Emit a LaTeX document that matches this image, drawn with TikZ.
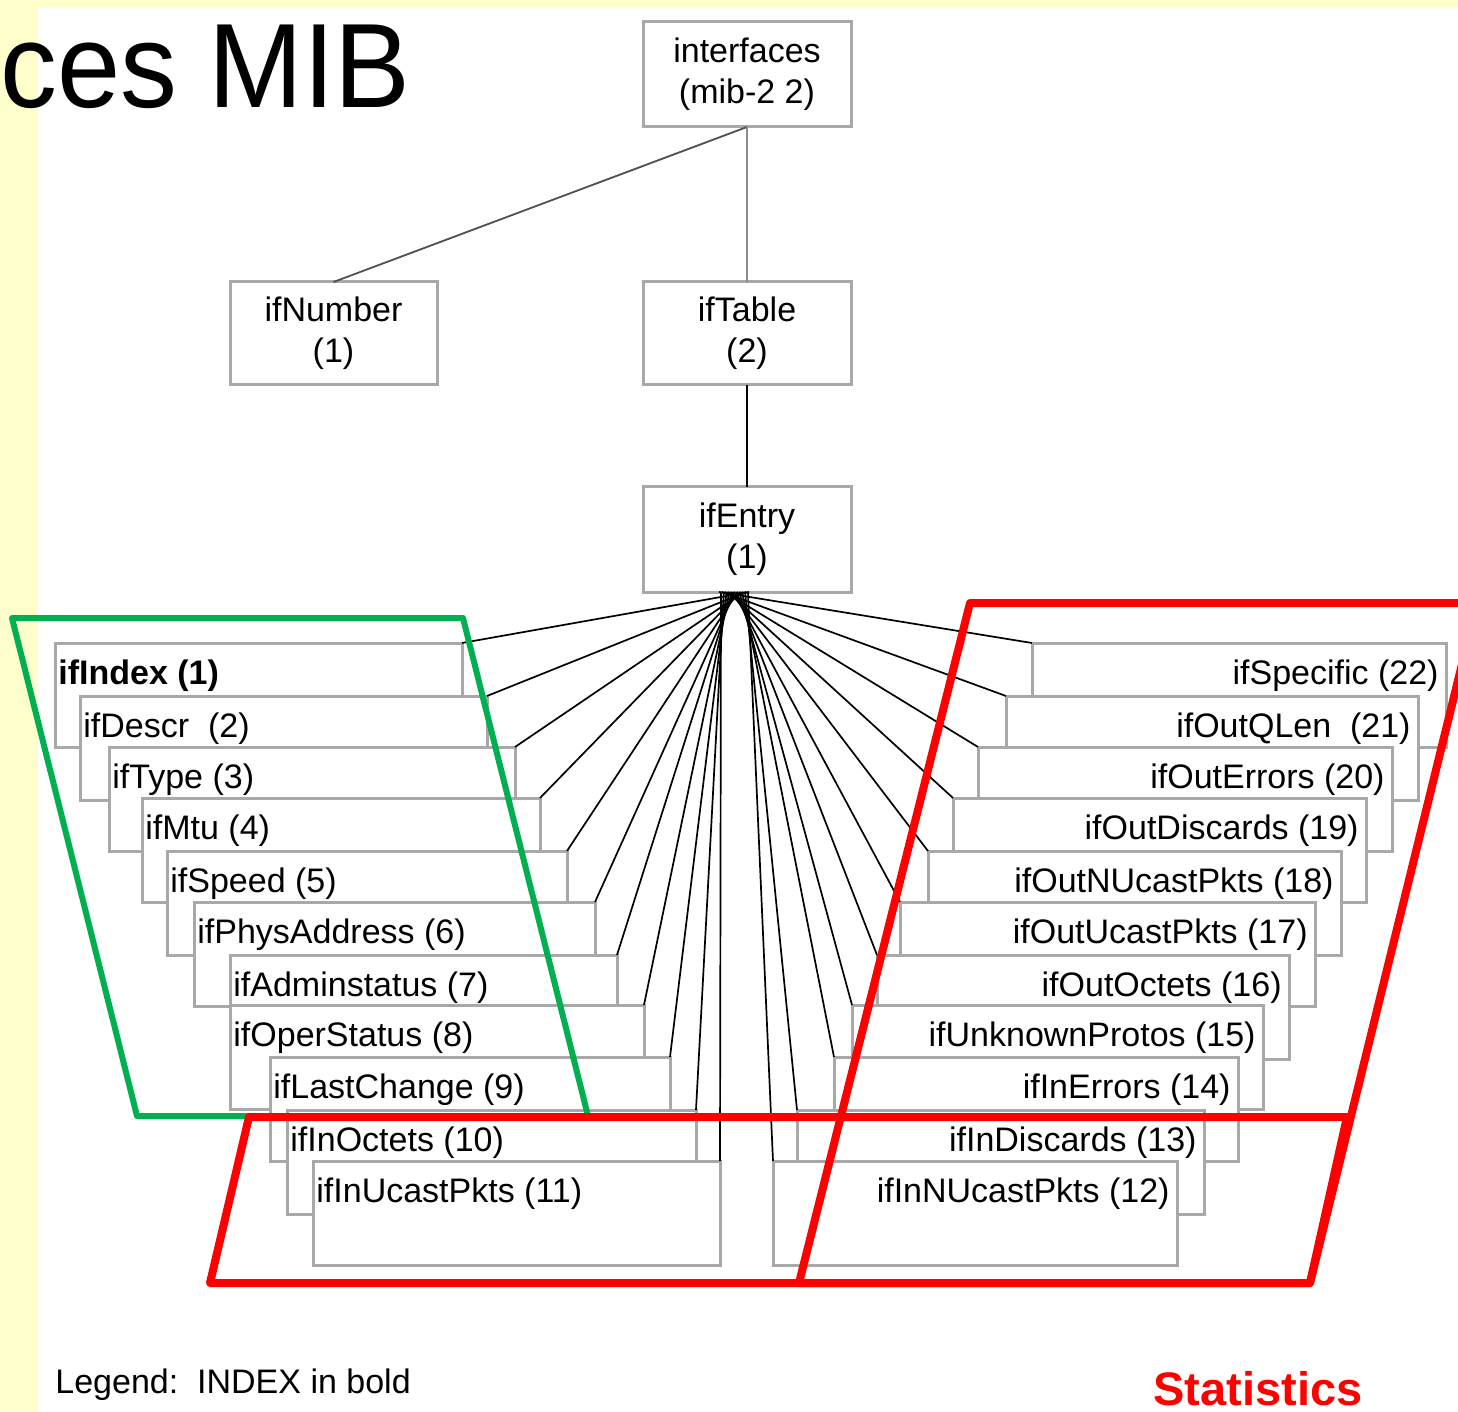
\documentclass[tikz,border=0pt]{standalone}
\usepackage{fontspec}
\setmainfont{Liberation Sans}
\definecolor{paleyellow}{RGB}{255,255,204}
\definecolor{boxgray}{RGB}{168,168,168}
\definecolor{linkgray}{RGB}{80,80,80}
\definecolor{midgray}{RGB}{140,140,140}
\definecolor{redline}{RGB}{255,0,0}
\definecolor{greenline}{RGB}{0,176,80}
\begin{document}
\begin{tikzpicture}[x=0.5pt,y=-0.5pt,
  mibbox/.style={draw=boxgray, line width=1.5pt, fill=white, rectangle,
                 inner sep=0pt, outer sep=0pt},
  boxtext/.style={font=\fontsize{17}{20.5}\selectfont, inner sep=0pt},
  fan/.style={line width=0.85pt, black},
  frame/.style={line join=round, line cap=round},
]
% page and background
\useasboundingbox (0,0) rectangle (1458,1412);
\fill[paleyellow] (0,0) rectangle (1458,1412);
\fill[white] (38,8) rectangle (1458,1412);

% title
\node[anchor=base west, inner sep=0pt, font=\fontsize{60}{72}\selectfont]
  (title) at (0,108) {\scalebox{0.947}[1]{ces MIB}};

% upper part of the tree
\node[mibbox, boxtext, align=center, minimum width=104pt, minimum height=52.5pt]
  (ifaces) at (747,74.5) {interfaces\\(mib-2 2)};
\node[mibbox, boxtext, align=center, minimum width=103.5pt, minimum height=51.5pt]
  (ifnum) at (333.5,333.5) {ifNumber\\(1)};
\node[mibbox, boxtext, align=center, minimum width=104pt, minimum height=51.5pt]
  (iftab) at (747,333.5) {ifTable\\(2)};
\node[mibbox, boxtext, align=center, minimum width=104pt, minimum height=52.5pt]
  (ifent) at (747,539.5) {ifEntry\\(1)};

\draw[line width=0.9pt, linkgray] (ifaces.south) -- (ifnum.north);
\draw[line width=1pt, midgray] (ifaces.south) -- (iftab.north);
\draw[line width=1pt, black] (iftab.south) -- (ifent.north);

% left staircase of ifEntry columns
\foreach \k/\l/\t/\r/\txt in {
  1/55/643/462/{\textbf{ifIndex (1)}},
  2/80/696/487/{ifDescr\ \ (2)},
  3/109/747/515/{ifType (3)},
  4/142/798/540/{ifMtu (4)},
  5/167/851/567/{ifSpeed (5)},
  6/194/902/595/{ifPhysAddress (6)},
  7/230/955/617/{ifAdminstatus (7)},
  8/230/1005/644/{ifOperStatus (8)},
  9/270/1057/670/{ifLastChange (9)},
  10/287/1110/696/{ifInOctets (10)},
  11/313/1161/720/{ifInUcastPkts (11)}}{
  \pgfmathsetmacro\w{(\r-\l)*0.5}
  \node[mibbox, anchor=north west, minimum width=\w pt, minimum height=52pt]
    (b\k) at (\l,\t) {};
  \node[boxtext, anchor=base west] (t\k) at (\l+3,\t+41) {\txt};
}

% right staircase of ifEntry columns
\foreach \k/\l/\t/\r/\txt in {
  22/1032/643/1446/{ifSpecific (22)},
  21/1006/696/1418/{ifOutQLen\ \ (21)},
  20/978/747/1392/{ifOutErrors (20)},
  19/953/798/1366/{ifOutDiscards (19)},
  18/928/851/1341/{ifOutNUcastPkts (18)},
  17/900/902/1315/{ifOutUcastPkts (17)},
  16/877/955/1289/{ifOutOctets (16)},
  15/852/1005/1263/{ifUnknownProtos (15)},
  14/834/1057/1238/{ifInErrors (14)},
  13/797/1110/1204/{ifInDiscards (13)},
  12/773/1161/1177/{ifInNUcastPkts (12)}}{
  \pgfmathsetmacro\w{(\r-\l)*0.5}
  \node[mibbox, anchor=north west, minimum width=\w pt, minimum height=52pt]
    (b\k) at (\l,\t) {};
  \node[boxtext, anchor=base east] (t\k) at (\r-7,\t+41) {\txt};
}

% fan of links from ifEntry to every column; the start points cross over
\foreach \k in {1,...,11}{
  \pgfmathsetmacro\dx{(749-(\k-1)*2.8-747)*0.5}
  \draw[fan] ([xshift=\dx pt]ifent.south) -- (b\k.north east);
}
\foreach \k in {12,...,22}{
  \pgfmathsetmacro\dx{(748-(\k-12)*2.9-747)*0.5}
  \draw[fan] ([xshift=\dx pt]ifent.south) -- (b\k.north west);
}

% highlighted groups
\draw[frame, greenline, line width=3pt]
  (12,618) -- (463,618) -- (588,1116) -- (137,1116) -- cycle;
\begin{scope}
  \clip (0,0) rectangle (1458,1412);
  \draw[frame, redline, line width=4pt]
    (970,603) -- (1477,603) -- (1310,1283) -- (799,1283) -- cycle;
  \draw[frame, redline, line width=4pt]
    (249,1117) -- (1347,1117) -- (1310,1283) -- (210,1283) -- cycle;
\end{scope}

% legend and group caption
\node[boxtext, anchor=base west] (legend) at (55,1393) {Legend:\ \ INDEX in bold};
\node[anchor=base west, inner sep=0pt, text=redline,
      font=\bfseries\fontsize{23.5}{28}\selectfont] (stats) at (1153,1405) {Statistics};
\end{tikzpicture}
\end{document}
